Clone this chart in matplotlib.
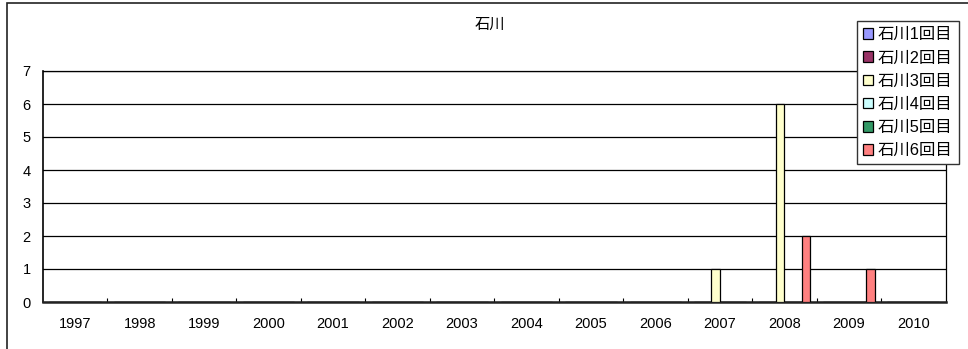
import matplotlib
matplotlib.use("Agg")
import matplotlib.pyplot as plt
import numpy as np
from matplotlib.patches import Rectangle

plt.rcParams['font.family'] = ['Liberation Sans', 'Noto Sans CJK JP', 'DejaVu Sans']

years = ["1997", "1998", "1999", "2000", "2001", "2002", "2003",
         "2004", "2005", "2006", "2007", "2008", "2009", "2010"]
series_names = ["石川1回目", "石川2回目", "石川3回目", "石川4回目", "石川5回目", "石川6回目"]
s1 = [0, 0, 0, 0, 0, 0, 0, 0, 0, 0, 0, 0, 0, 0]
s2 = [0, 0, 0, 0, 0, 0, 0, 0, 0, 0, 0, 0, 0, 0]
s3 = [0, 0, 0, 0, 0, 0, 0, 0, 0, 0, 1, 6, 0, 0]
s4 = [0, 0, 0, 0, 0, 0, 0, 0, 0, 0, 0, 0, 0, 0]
s5 = [0, 0, 0, 0, 0, 0, 0, 0, 0, 0, 0, 0, 0, 0]
s6 = [0, 0, 0, 0, 0, 0, 0, 0, 0, 0, 0, 2, 1, 0]
colors = ["#9999FF", "#993366", "#FFFFCC", "#CCFFFF", "#339966", "#FF8080"]

W, H = 968, 349
fig = plt.figure(figsize=(W / 100, H / 100), dpi=100)
ax = fig.add_axes([43 / W, 1 - 302 / H, (945.5 - 43) / W, (302 - 71) / H])

# outer chart frame (cropped at right and bottom)
fig.patches.append(Rectangle((7 / W, -0.1), 2, 1 - 2.5 / H + 0.1, transform=fig.transFigure,
                             fill=False, edgecolor="#222222", lw=1.2))

x = np.arange(len(years))
w = 1 / 7.5
all_series = [s1, s2, s3, s4, s5, s6]
handles = []
for k, vals in enumerate(all_series):
    b = ax.bar(x - 0.5 + w * (k + 1.25), vals, width=w, color=colors[k],
               edgecolor="black", linewidth=0.9, label=series_names[k], zorder=3)
    handles.append(b)

ax.set_xlim(-0.5, len(years) - 0.5)
ax.set_ylim(0, 7)
ax.set_yticks(range(0, 8))
ax.yaxis.grid(True, color="black", linewidth=0.9)
ax.set_axisbelow(True)
ax.tick_params(axis="y", length=0, pad=9, labelsize=10.5)

ax.set_xticks(x[:-1] + 0.5)
ax.set_xticklabels([])
ax.tick_params(axis="x", which="major", direction="in", length=3, width=0.8)
ax.set_xticks(x, minor=True)
ax.set_xticklabels(years, minor=True, fontsize=10.5)
ax.tick_params(axis="x", which="minor", length=0, pad=11)

for side in ["top", "right"]:
    ax.spines[side].set_color("black")
    ax.spines[side].set_linewidth(0.9)
ax.spines["left"].set_linewidth(1.2)
ax.spines["bottom"].set_linewidth(1.8)
ax.spines["bottom"].set_color("#222222")

fig.text(490 / W, 1 - 25 / H, "石川", ha="center", va="center", fontsize=11)

leg = fig.legend(handles=handles, labels=series_names, loc="upper left",
                 bbox_to_anchor=(856.5 / W, 1 - 21 / H), bbox_transform=fig.transFigure,
                 fontsize=11.8, handlelength=0.62, handleheight=0.62, handletextpad=0.3,
                 labelspacing=0.5, borderpad=0.38, borderaxespad=0, fancybox=False,
                 frameon=True, framealpha=1, edgecolor="#333333")
leg.get_frame().set_linewidth(1.0)

fig.savefig("out.png", dpi=100)
